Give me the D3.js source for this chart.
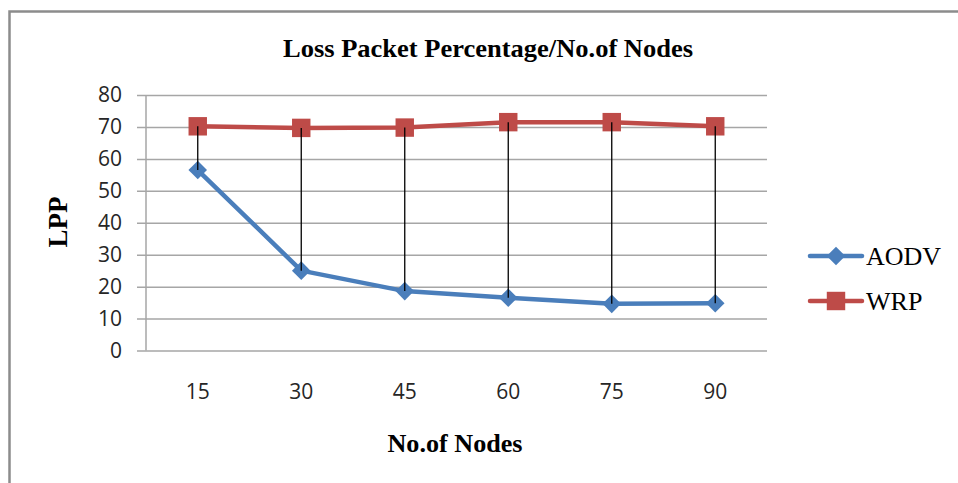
<!DOCTYPE html>
<html>
<head>
<meta charset="utf-8">
<script src="https://cdn.jsdelivr.net/npm/d3@7"></script>
<style>
  html, body { margin: 0; padding: 0; background: #fff; }
  svg { display: block; }
</style>
</head>
<body>
<svg id="chart" width="958" height="483"></svg>
<script>
// Number of nodes in the network (x categories)
const nodes = ["15", "30", "45", "60", "75", "90"];
// Loss packet percentage per protocol
const aodv = [56.5, 25.0, 18.6, 16.5, 14.6, 14.8];
const wrp = [70.2, 69.7, 69.8, 71.5, 71.5, 70.2];
const yTicks = [0, 10, 20, 30, 40, 50, 60, 70, 80];
const seriesNames = ["AODV", "WRP"];

const svg = d3.select("#chart");
const W = 958, H = 483;
const plot = { left: 146, right: 767, top: 95, bottom: 350.5 };

// outer frame
svg.append("path")
  .attr("d", `M9.5,${H} V11.5 H${W}`)
  .attr("fill", "none").attr("stroke", "#8c8c8c").attr("stroke-width", 2.5);

const x = d3.scaleBand().domain(nodes).range([plot.left, plot.right]);
const y = d3.scaleLinear().domain([0, 80]).range([plot.bottom, plot.top]);

const sans = "'Open Sans', 'DejaVu Sans', sans-serif";

// horizontal gridlines with y axis
const yAxis = d3.axisLeft(y).tickValues(yTicks).tickSize(-(plot.right - plot.left)).tickPadding(24).tickFormat(d3.format("d"));
const gy = svg.append("g").attr("transform", `translate(${plot.left},0)`).call(yAxis);
gy.select(".domain").remove();
gy.selectAll(".tick line").attr("stroke", "#a6a6a6").attr("stroke-width", 1.5).attr("x1", -9);
gy.selectAll(".tick text")
  .attr("font-family", sans).attr("font-size", 21).attr("fill", "#262626");

// vertical axis line
svg.append("line")
  .attr("x1", plot.left).attr("x2", plot.left)
  .attr("y1", plot.top).attr("y2", plot.bottom)
  .attr("stroke", "#a6a6a6").attr("stroke-width", 1.5);

// x axis labels
const xAxis = d3.axisBottom(x).tickSize(0).tickPadding(34);
const gx = svg.append("g").attr("transform", `translate(0,${plot.bottom})`).call(xAxis);
gx.select(".domain").remove();
gx.selectAll(".tick text")
  .attr("font-family", sans).attr("font-size", 21).attr("fill", "#262626");

const cx = d => x(d) + x.bandwidth() / 2;

const colors = { AODV: "#4a7ebb", WRP: "#be4b48" };
const data = { AODV: aodv, WRP: wrp };
const line = d3.line().x((d, i) => cx(nodes[i])).y(d => y(d));

seriesNames.forEach(name => {
  svg.append("path").datum(data[name])
    .attr("d", line).attr("fill", "none")
    .attr("stroke", colors[name]).attr("stroke-width", 4.5)
    .attr("stroke-linejoin", "round");
});

const diamond = d3.symbol().type(d3.symbolDiamond2).size(220);
const square = d3.symbol().type(d3.symbolSquare).size(340);

svg.append("g").selectAll("path").data(aodv).join("path")
  .attr("d", diamond)
  .attr("transform", (d, i) => `translate(${cx(nodes[i])},${y(d)})`)
  .attr("fill", colors.AODV);
svg.append("g").selectAll("path").data(wrp).join("path")
  .attr("d", square)
  .attr("transform", (d, i) => `translate(${cx(nodes[i])},${y(d)})`)
  .attr("fill", colors.WRP);

// high-low lines joining the two series, drawn over the markers
svg.append("g").selectAll("line").data(nodes).join("line")
  .attr("x1", d => cx(d)).attr("x2", d => cx(d))
  .attr("y1", (d, i) => y(wrp[i])).attr("y2", (d, i) => y(aodv[i]))
  .attr("stroke", "#000").attr("stroke-width", 1.3);

// title and axis titles
const serif = "'Liberation Serif', 'Times New Roman', serif";
svg.append("text")
  .attr("x", 488).attr("y", 57).attr("text-anchor", "middle")
  .attr("font-family", serif).attr("font-weight", "bold").attr("font-size", 25)
  .attr("textLength", 410).attr("lengthAdjust", "spacingAndGlyphs")
  .attr("fill", "#000").text("Loss Packet Percentage/No.of Nodes");
svg.append("text")
  .attr("x", 455).attr("y", 452).attr("text-anchor", "middle")
  .attr("font-family", serif).attr("font-weight", "bold").attr("font-size", 26)
  .attr("textLength", 135).attr("lengthAdjust", "spacingAndGlyphs")
  .attr("fill", "#000").text("No.of Nodes");
svg.append("text")
  .attr("transform", "translate(67,222) rotate(-90)").attr("text-anchor", "middle")
  .attr("font-family", serif).attr("font-weight", "bold").attr("font-size", 27)
  .attr("fill", "#000").text("LPP");

// legend
const legend = svg.append("g");
seriesNames.forEach((name, i) => {
  const ly = 256 + i * 45;
  legend.append("line")
    .attr("x1", 810).attr("x2", 862).attr("y1", ly).attr("y2", ly)
    .attr("stroke", colors[name]).attr("stroke-width", 4.5).attr("stroke-linecap", "round");
  legend.append("path")
    .attr("d", name === "AODV" ? diamond : square)
    .attr("transform", `translate(836,${ly})`)
    .attr("fill", colors[name]);
  legend.append("text")
    .attr("x", 866).attr("y", ly + 9)
    .attr("font-family", serif).attr("font-size", 26).attr("fill", "#000")
    .text(name);
});
</script>
</body>
</html>
